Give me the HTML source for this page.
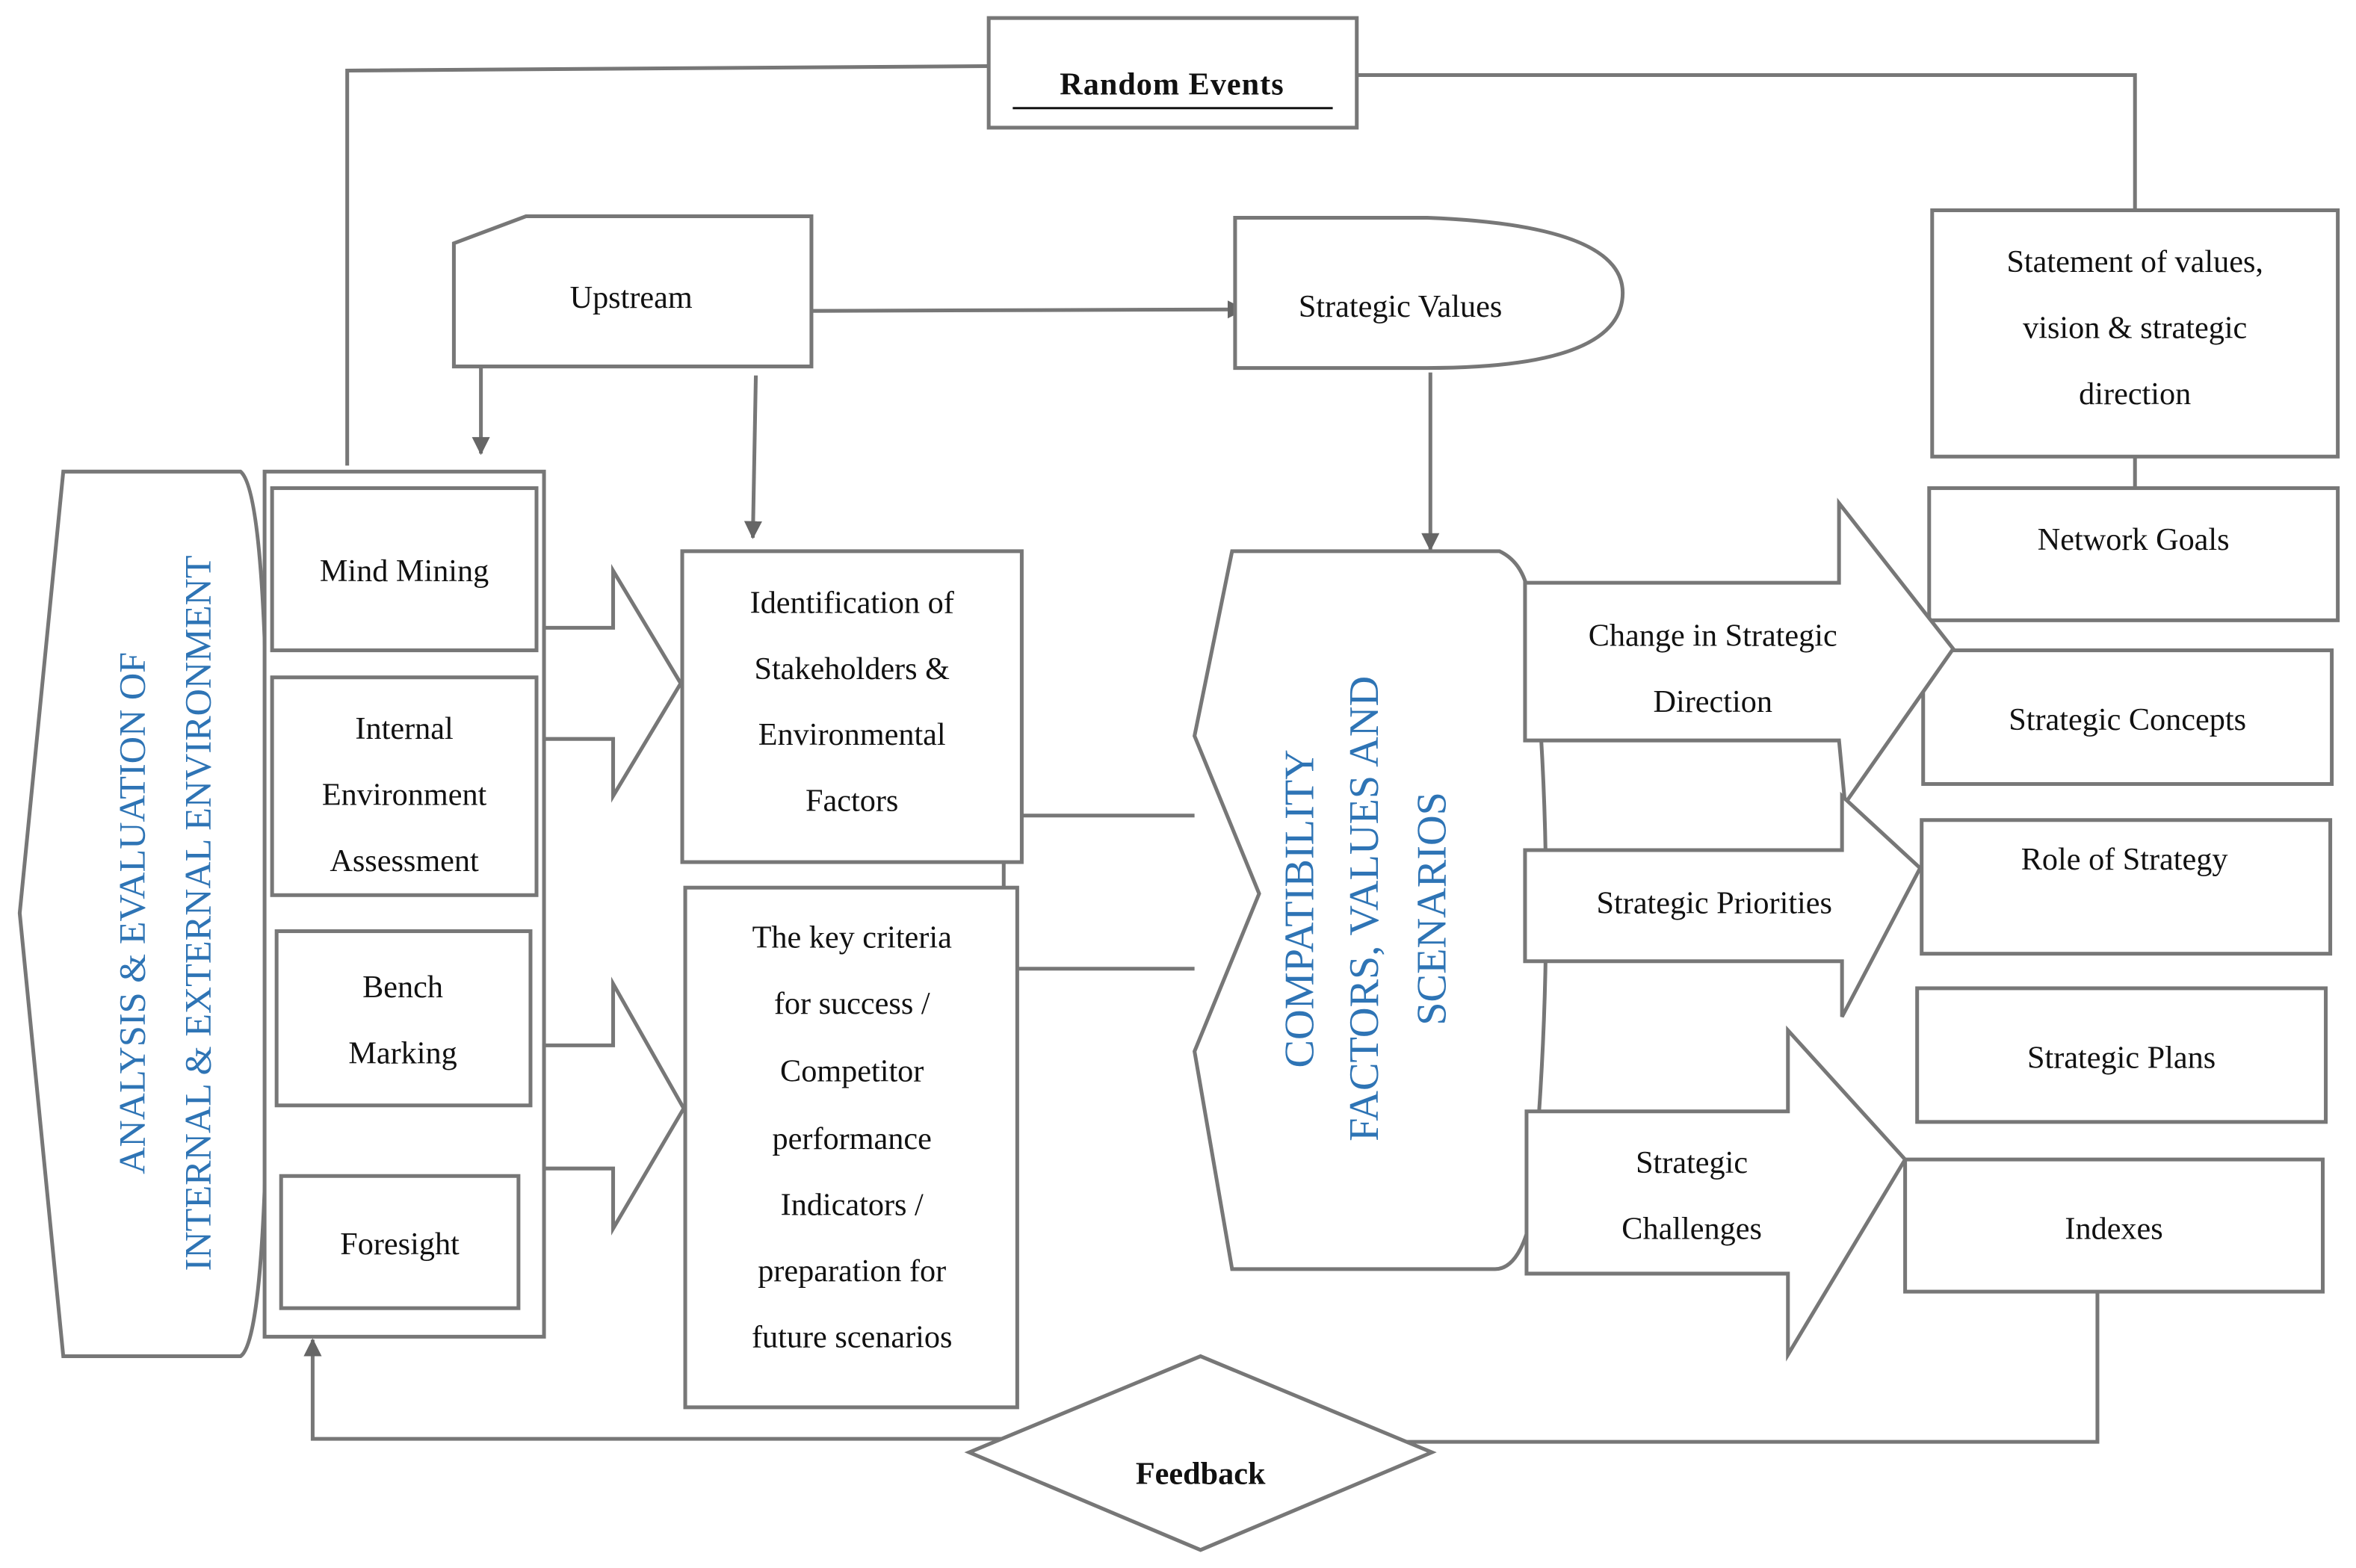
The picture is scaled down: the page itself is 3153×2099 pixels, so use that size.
<!DOCTYPE html>
<html><head><meta charset="utf-8"><style>
html,body{margin:0;padding:0;background:#fff;}
svg{display:block;}
text{font-family:"Liberation Serif",serif;font-size:21px;fill:#111;text-anchor:middle;}
.b{font-weight:bold;}
.v{fill:#2E74B5;font-size:25px;}
.c{fill:#2E74B5;font-size:28px;}
</style></head><body>
<svg width="3153" height="2099" viewBox="0 0 1568 1044" xmlns="http://www.w3.org/2000/svg">
<defs><marker id="ah" markerWidth="12" markerHeight="12" refX="11" refY="6" orient="auto" markerUnits="userSpaceOnUse" viewBox="0 0 12 12"><path d="M0,0 L12,6 L0,12 Z" fill="#666"/></marker></defs>
<g fill="#fff" stroke="#777" stroke-width="2.5">
<polyline fill="none" points="231,310 231,47 658,44"/>
<polyline fill="none" points="903,50 1421,50 1421,140"/>
<rect x="658" y="12" width="245" height="73"/>
<polygon points="302,162 350,144 540,144 540,244 302,244"/>
<line x1="540" y1="207" x2="828" y2="206" marker-end="url(#ah)"/>
<path d="M822,145 L950,145 Q1080,150 1080,195 Q1080,245 950,245 L822,245 Z"/>
<line x1="952" y1="248" x2="952" y2="366" marker-end="url(#ah)"/>
<line x1="320" y1="244" x2="320" y2="302" marker-end="url(#ah)"/>
<line x1="503" y1="250" x2="501" y2="358" marker-end="url(#ah)"/>
<line x1="1421" y1="304" x2="1421" y2="325"/>
<rect x="1286" y="140" width="270" height="164"/>
<rect x="1284" y="325" width="272" height="88"/>
<rect x="1280" y="433" width="272" height="89"/>
<rect x="1279" y="546" width="272" height="89"/>
<rect x="1276" y="658" width="272" height="89"/>
<rect x="1268" y="772" width="278" height="88"/>
<path d="M42,314 L160,314 Q180,330 178,608 Q180,890 160,903 L42,903 L13,608 Z"/>
<rect x="176" y="314" width="186" height="576"/>
<polygon points="362,418 408,418 408,380 453,455 408,530 408,492 362,492"/>
<polygon points="362,696 408,696 408,655 455,738 408,818 408,778 362,778"/>
<rect x="181" y="325" width="176" height="108"/>
<rect x="181" y="451" width="176" height="145"/>
<rect x="184" y="620" width="169" height="116"/>
<rect x="187" y="783" width="158" height="88"/>
<line x1="668" y1="574" x2="668" y2="591"/>
<polyline fill="none" points="680,543 795,543"/>
<polyline fill="none" points="677,645 795,645"/>
<rect x="454" y="367" width="226" height="207"/>
<rect x="456" y="591" width="221" height="346"/>
<path d="M820,367 L998,367 Q1015,375 1018,400 Q1040,600 1018,815 Q1010,845 995,845 L820,845 L795,700 L838,595 L795,490 Z"/>
<polygon points="1015,388 1224,388 1224,335 1300,432 1228,535 1224,493 1015,493"/>
<polygon points="1015,566 1226,566 1226,530 1278,578 1226,677 1226,640 1015,640"/>
<polygon points="1016,740 1190,740 1190,686 1268,772 1190,902 1190,848 1016,848"/>
<polyline fill="none" points="1396,860 1396,960 885,960"/>
<polyline fill="none" points="720,958 208,958 208,892" marker-end="url(#ah)"/>
<polygon points="645,967 799,903 953,967 799,1032"/>
</g>
<line x1="674" y1="72" x2="887" y2="72" stroke="#111" stroke-width="1.5"/>
<text x="780" y="63" class="b" letter-spacing="0.5">Random Events</text>
<text x="420" y="205">Upstream</text>
<text x="932" y="211">Strategic Values</text>
<text x="1421" y="181">Statement of values,</text>
<text x="1421" y="225">vision &amp; strategic</text>
<text x="1421" y="269">direction</text>
<text x="1420" y="366">Network Goals</text>
<text x="1416" y="486">Strategic Concepts</text>
<text x="1414" y="579">Role of Strategy</text>
<text x="1412" y="711">Strategic Plans</text>
<text x="1407" y="825">Indexes</text>
<text x="269" y="387">Mind Mining</text>
<text x="269" y="492">Internal</text>
<text x="269" y="536">Environment</text>
<text x="269" y="580">Assessment</text>
<text x="268" y="664">Bench</text>
<text x="268" y="708">Marking</text>
<text x="266" y="835">Foresight</text>
<text x="567" y="408">Identification of</text>
<text x="567" y="452">Stakeholders &amp;</text>
<text x="567" y="496">Environmental</text>
<text x="567" y="540">Factors</text>
<text x="567" y="631">The key criteria</text>
<text x="567" y="675">for success /</text>
<text x="567" y="720">Competitor</text>
<text x="567" y="765">performance</text>
<text x="567" y="809">Indicators /</text>
<text x="567" y="853">preparation for</text>
<text x="567" y="897">future scenarios</text>
<text x="1140" y="430">Change in Strategic</text>
<text x="1140" y="474">Direction</text>
<text x="1141" y="608">Strategic Priorities</text>
<text x="1126" y="781">Strategic</text>
<text x="1126" y="825">Challenges</text>
<text x="799" y="988" class="b">Feedback</text>
<text class="v" transform="translate(96,608) rotate(-90)">ANALYSIS &amp; EVALUATION OF</text>
<text class="v" transform="translate(140,608) rotate(-90)">INTERNAL &amp; EXTERNAL ENVIRONMENT</text>
<text class="c" transform="translate(874,605) rotate(-90)">COMPATIBILITY</text>
<text class="c" transform="translate(917,605) rotate(-90)">FACTORS, VALUES AND</text>
<text class="c" transform="translate(962,605) rotate(-90)">SCENARIOS</text>
</svg>
</body></html>
